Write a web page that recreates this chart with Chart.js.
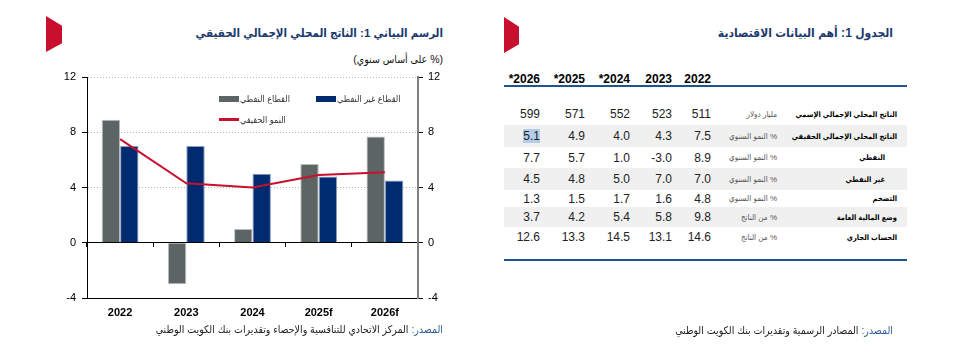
<!DOCTYPE html>
<html lang="ar">
<head>
<meta charset="utf-8">
<title>الناتج المحلي الإجمالي الحقيقي</title>
<script src="https://cdn.jsdelivr.net/npm/chart.js@4.4.1/dist/chart.umd.min.js"></script>
<style>
  html, body { margin: 0; padding: 0; background: #fff; }
  body {
    width: 968px; height: 345px; position: relative; overflow: hidden;
    font-family: "Liberation Sans", "DejaVu Sans Condensed", "DejaVu Sans", Arial, sans-serif;
  }
  .marker {
    position: absolute; background: #c8102e;
    clip-path: polygon(0 0, 100% 27%, 100% 76%, 0 100%);
  }
  .rtl { position: absolute; direction: rtl; text-align: right; white-space: nowrap; }
  .heading { font-weight: bold; font-size: 12px; color: #1c3a6e; }
  .heading.chart-title { font-size: 11.5px; }
  .subheading { font-size: 10.5px; color: #111; }
  .source { font-size: 10.5px; color: #222; }
  .source b { font-weight: normal; color: #2c5c9a; }

  #chartBox { position: absolute; left: 0; top: 0; width: 480px; height: 345px; }

  #legend {
    position: absolute; left: 219px; top: 88px;
    display: grid; grid-template-columns: 97px 97px; grid-auto-rows: 21px;
  }
  .lg-item { display: flex; align-items: center; font-size: 9px; color: #333; white-space: nowrap; }
  .lg-swatch { width: 20px; margin-right: 1px; flex: none; }

  .tline { position: absolute; left: 504px; width: 403px; height: 2px; background: #1e5591; }
  .trow { position: absolute; left: 504px; width: 403px; display: flex; direction: rtl; align-items: center; }
  .trow.band { background: #f0f0f0; }
  .c-label {
    width: 120px; padding-right: 10px; text-align: right; font-weight: bold; font-size: 7.5px;
    color: #000; box-sizing: content-box; white-space: nowrap; overflow: visible;
  }
  .c-label.indent { width: 108px; padding-right: 22px; }
  .c-unit { width: 66px; text-align: right; font-size: 8px; color: #555; white-space: nowrap; }
  .c-num { text-align: right; font-size: 12px; color: #222; direction: ltr; }
  .head .c-num { font-weight: bold; color: #000; }
  .hl { background: #b5cde8; }
</style>
</head>
<body>

<div class="marker" style="left:46px; top:16px; width:16px; height:36px;"></div>
<div class="rtl heading chart-title" style="right:525px; top:26px;">الرسم البياني 1: الناتج المحلي الإجمالي الحقيقي</div>
<div class="rtl subheading" style="right:525px; top:53px;">(% على أساس سنوي)</div>

<div id="chartBox"><canvas id="gdpChart" width="480" height="345"></canvas></div>
<div id="legend"></div>

<div class="rtl source" style="right:525px; top:323px;"><b>المصدر:</b> المركز الاتحادي للتنافسية والإحصاء وتقديرات بنك الكويت الوطني</div>

<div class="marker" style="left:504px; top:17px; width:15px; height:36px;"></div>
<div class="rtl heading" style="right:75px; top:26px;">الجدول 1: أهم البيانات الاقتصادية</div>
<div id="table"></div>
<div class="rtl source" style="right:75px; top:324px;"><b>المصدر:</b> المصادر الرسمية وتقديرات بنك الكويت الوطني</div>

<script>
// Chart data (annual % growth)
const years = ['2022', '2023', '2024', '2025f', '2026f'];
const oilGrowth = [8.9, -3.0, 1.0, 5.7, 7.7];
const nonOilGrowth = [7.0, 7.0, 5.0, 4.8, 4.5];
const realGrowth = [7.5, 4.3, 4.0, 4.9, 5.1];
const axisMin = -4;
const axisMax = 12;
const axisStep = 4;

// Table data
const tableYears = ['2022', '2023', '*2024', '*2025', '*2026'];
const nominalGdp = [511, 523, 552, 571, 599];
const inflation = [4.8, 1.6, 1.7, 1.5, 1.3];
const fiscalBalance = [9.8, 5.8, 5.4, 4.2, 3.7];
const currentAccount = [14.6, 13.1, 14.5, 13.3, 12.6];

const tableRows = [
    { label: 'الناتج المحلي الإجمالي الإسمي', unit: 'مليار دولار', values: nominalGdp, digits: 0 },
    { label: 'الناتج المحلي الإجمالي الحقيقي', unit: '% النمو السنوي', values: realGrowth, digits: 1 },
    { label: 'النفطي', unit: '% النمو السنوي', values: oilGrowth, digits: 1, indent: true },
    { label: 'غير النفطي', unit: '% النمو السنوي', values: nonOilGrowth, digits: 1, indent: true },
    { label: 'التضخم', unit: '% النمو السنوي', values: inflation, digits: 1 },
    { label: 'وضع المالية العامة', unit: '% من الناتج', values: fiscalBalance, digits: 1 },
    { label: 'الحساب الجاري', unit: '% من الناتج', values: currentAccount, digits: 1 }
];

// Colours
const OIL = '#5d6464';
const NON_OIL = '#002b70';
const GROWTH = '#c8102e';

// Table layout
const colWidths = [39, 42, 45, 45, 36];
const rowTops = [103, 125, 147, 168, 190, 207, 227];
const rowHeights = [22, 22, 21, 22, 17, 20, 20];

function buildTable() {
    const box = document.getElementById('table');
    let html = '<div class="trow head" style="top:71px;height:16px;">' +
        '<div class="c-label"></div><div class="c-unit"></div>';
    tableYears.forEach((y, i) => {
        html += `<div class="c-num" style="width:${colWidths[i]}px">${y}</div>`;
    });
    html += '</div><div class="tline" style="top:85px"></div>';

    tableRows.forEach((row, r) => {
        html += `<div class="trow${r % 2 === 1 ? ' band' : ''}" style="top:${rowTops[r]}px;height:${rowHeights[r]}px;">`;
        html += `<div class="c-label${row.indent ? ' indent' : ''}">${row.label}</div>`;
        html += `<div class="c-unit">${row.unit}</div>`;
        row.values.forEach((v, i) => {
            let txt = v.toFixed(row.digits);
            if (r === 1 && i === row.values.length - 1) txt = `<span class="hl">${txt}</span>`;
            html += `<div class="c-num" style="width:${colWidths[i]}px">${txt}</div>`;
        });
        html += '</div>';
    });
    html += '<div class="tline" style="top:259px"></div>';
    box.innerHTML = html;
}

function buildLegend(chart) {
    const box = document.getElementById('legend');
    box.innerHTML = '';
    chart.data.datasets.forEach(ds => {
        const item = document.createElement('div');
        item.className = 'lg-item';
        const sw = document.createElement('span');
        sw.className = 'lg-swatch';
        if (ds.type === 'line') {
            sw.style.height = '3px';
            sw.style.background = ds.borderColor;
        } else {
            sw.style.height = '6px';
            sw.style.background = ds.backgroundColor;
        }
        const txt = document.createElement('span');
        txt.textContent = ds.label;
        item.appendChild(sw);
        item.appendChild(txt);
        box.appendChild(item);
    });
}

function initChart() {
    Chart.defaults.font.family = '"Liberation Sans", Arial, sans-serif';
    Chart.defaults.color = '#000';

    const tickFont = { size: 11 };

    const chart = new Chart(document.getElementById('gdpChart'), {
        data: {
            labels: years,
            datasets: [
                {
                    type: 'bar',
                    label: 'القطاع النفطي',
                    data: oilGrowth,
                    backgroundColor: OIL,
                    borderColor: '#b9bdbd',
                    borderWidth: 1,
                    categoryPercentage: 0.556,
                    barPercentage: 1,
                    order: 2
                },
                {
                    type: 'bar',
                    label: 'القطاع غير النفطي',
                    data: nonOilGrowth,
                    backgroundColor: NON_OIL,
                    borderColor: '#8d9cbf',
                    borderWidth: 1,
                    categoryPercentage: 0.556,
                    barPercentage: 1,
                    order: 2
                },
                {
                    type: 'line',
                    label: 'النمو الحقيقي',
                    data: realGrowth,
                    borderColor: GROWTH,
                    backgroundColor: GROWTH,
                    borderWidth: 2,
                    pointRadius: 0,
                    tension: 0,
                    order: 1
                }
            ]
        },
        options: {
            responsive: false,
            animation: false,
            layout: { padding: { left: 47, right: 22, top: 77, bottom: 17 } },
            plugins: {
                legend: { display: false },
                tooltip: { enabled: false }
            },
            scales: {
                x: {
                    type: 'category',
                    position: 'bottom',
                    grid: { display: false, drawTicks: false },
                    border: { display: true, color: '#000', width: 1 },
                    ticks: { font: { size: 11, weight: 'bold' }, padding: 8, color: '#000' },
                    afterFit: s => { s.height = 30; }
                },
                // zero line with category tick marks
                x0: {
                    type: 'category',
                    position: { y: 0 },
                    offset: true,
                    grid: {
                        offset: true,
                        drawOnChartArea: false,
                        drawTicks: true,
                        tickLength: 4,
                        tickColor: '#000'
                    },
                    border: { display: true, color: '#000', width: 1 },
                    ticks: { display: false }
                },
                y: {
                    position: 'left',
                    min: axisMin,
                    max: axisMax,
                    ticks: { stepSize: axisStep, font: tickFont, padding: 6, color: '#000' },
                    grid: {
                        color: ctx => (ctx.tick && ctx.tick.value === 0) ? 'rgba(0,0,0,0)' : '#b5b5b5',
                        tickColor: '#000',
                        tickLength: 5,
                        tickBorderDash: []
                    },
                    border: { display: true, color: '#000', width: 1, dash: [1, 2] },
                    afterFit: s => { s.width = 40; }
                },
                y2: {
                    position: 'right',
                    min: axisMin,
                    max: axisMax,
                    ticks: { stepSize: axisStep, font: tickFont, padding: 5, color: '#000' },
                    grid: { drawOnChartArea: false, tickColor: '#000', tickLength: 5 },
                    border: { display: true, color: '#808080', width: 2 },
                    afterFit: s => { s.width = 40; }
                }
            }
        }
    });

    buildLegend(chart);
}

buildTable();
initChart();
</script>
</body>
</html>
